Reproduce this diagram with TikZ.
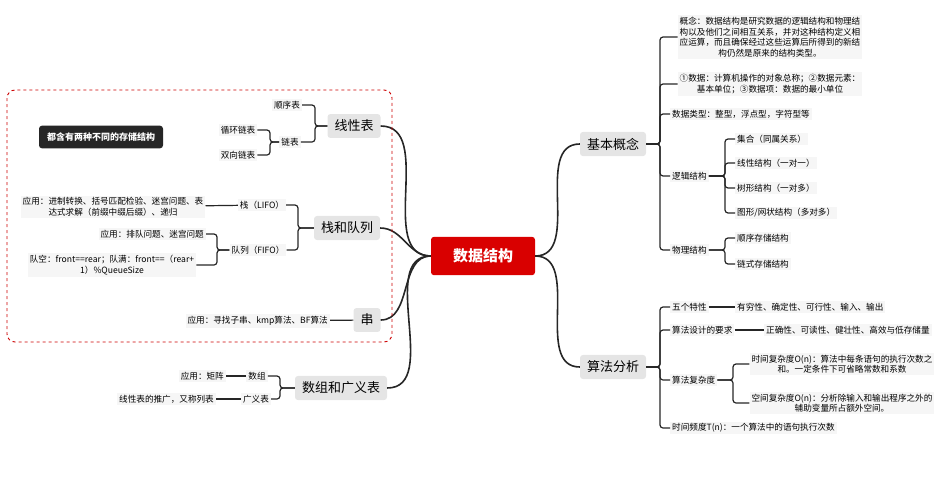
\documentclass[tikz,border=0pt]{standalone}
\usepackage{fontspec}
\setmainfont{Noto Sans CJK SC}
\usetikzlibrary{positioning}

\tikzset{
  leaf/.style={fill=gray!7, inner sep=2pt, font=\fontsize{8.6}{10.5}\selectfont, align=center},
  topic/.style={fill=gray!20, rounded corners=3pt, inner xsep=7pt, inner ysep=6pt, font=\fontsize{13}{15}\selectfont},
  root/.style={fill=red!85!black, rounded corners=3pt, inner xsep=22pt, inner ysep=12pt, text=white, font=\fontsize{15}{17}\selectfont\bfseries},
  branch/.style={line width=1.6pt, black!85},
  brk/.style={line width=1.2pt, black!85, rounded corners=3pt},
}

\begin{document}
\begin{tikzpicture}[x=1pt, y=-1pt]
    \useasboundingbox (0,0) rectangle (949,496);

    % Root and topics
    \node[root]  (ds)    at (483,256) {数据结构};
    \node[topic] (basic) at (613,144) {基本概念};
    \node[topic] (algo)  at (613,367) {算法分析};
    \node[topic] (lin)   at (354,126) {线性表};
    \node[topic] (stq)   at (347,228) {栈和队列};
    \node[topic] (str)   at (367,320) {串};
    \node[topic] (arr)   at (341,388) {数组和广义表};

    \draw[branch] (ds.east) to[out=0, in=180] (basic.west);
    \draw[branch] (ds.east) to[out=0, in=180] (algo.west);
    \draw[branch] (ds.west) to[out=180, in=0] (lin.east);
    \draw[branch] (ds.west) to[out=180, in=0] (stq.east);
    \draw[branch] (ds.west) to[out=180, in=0] (str.east);
    \draw[branch] (ds.west) to[out=180, in=0] (arr.east);

    % Basic concepts
    \node[leaf] (cpt)  at (770,37) {概念：数据结构是研究数据的逻辑结构和物理结\\构以及他们之间相互关系，并对这种结构定义相\\应运算，而且确保经过这些运算后所得到的新结\\构仍然是原来的结构类型。};
    \node[leaf] (elem) at (770,84) {①数据：计算机操作的对象总称；②数据元素：\\基本单位；③数据项：数据的最小单位};
    \node[leaf, anchor=west] (type)  at (670,114) {数据类型：整型，浮点型，字符型等};
    \node[leaf, anchor=west] (logic) at (670,176) {逻辑结构};
    \node[leaf, anchor=west] (phys)  at (670,250) {物理结构};
    \foreach \c in {cpt, elem, type, logic, phys}
        \draw[brk] (basic.east) -- (660,144) |- (\c.west);

    \node[leaf, anchor=west] (set)   at (735,139) {集合（同属关系）};
    \node[leaf, anchor=west] (lrel)  at (735,163) {线性结构（一对一）};
    \node[leaf, anchor=west] (tree)  at (735,188) {树形结构（一对多）};
    \node[leaf, anchor=west] (graph) at (735,213) {图形/网状结构（多对多）};
    \foreach \c in {set, lrel, tree, graph}
        \draw[brk] (logic.east) -- (725,176) |- (\c.west);

    \node[leaf, anchor=west] (seqs) at (735,238) {顺序存储结构};
    \node[leaf, anchor=west] (lnks) at (735,264) {链式存储结构};
    \foreach \c in {seqs, lnks}
        \draw[brk] (phys.east) -- (725,250) |- (\c.west);

    % Algorithm analysis
    \node[leaf, anchor=west] (five) at (670,307) {五个特性};
    \node[leaf, anchor=west] (req)  at (670,330) {算法设计的要求};
    \node[leaf, anchor=west] (cplx) at (670,380) {算法复杂度};
    \node[leaf, anchor=west] (freq) at (670,428) {时间频度T(n)：一个算法中的语句执行次数};
    \foreach \c in {five, req, cplx, freq}
        \draw[brk] (algo.east) -- (660,367) |- (\c.west);

    \node[leaf, anchor=west] (fivev) at (735,307) {有穷性、确定性、可行性、输入、输出};
    \node[leaf, anchor=west] (reqv)  at (764,330) {正确性、可读性、健壮性、高效与低存储量};
    \draw[brk] (five) -- (fivev);
    \draw[brk] (req) -- (reqv);

    \node[leaf] (tcx) at (842,364) {时间复杂度O(n)：算法中每条语句的执行次数之\\和。一定条件下可省略常数和系数};
    \node[leaf] (scx) at (842,403) {空间复杂度O(n)：分析除输入和输出程序之外的\\辅助变量所占额外空间。};
    \foreach \c in {tcx, scx}
        \draw[brk] (cplx.east) -- (733,380) |- (\c.west);

    % Linear list
    \node[leaf] (seql) at (287,105) {顺序表};
    \node[leaf] (lnkl) at (290,142) {链表};
    \foreach \c in {seql, lnkl}
        \draw[brk] (lin.west) -- (315,126) |- (\c.east);
    \node[leaf] (cyc) at (238,130) {循环链表};
    \node[leaf] (dbl) at (238,155) {双向链表};
    \foreach \c in {cyc, dbl}
        \draw[brk] (lnkl.west) -- (270,142) |- (\c.east);

    % Stack and queue
    \node[leaf] (stk) at (262,205) {栈（LIFO）};
    \node[leaf] (que) at (258,250) {队列（FIFO）};
    \foreach \c in {stk, que}
        \draw[brk] (stq.west) -- (298,228) |- (\c.east);
    \node[leaf] (stku) at (113,207) {应用：进制转换、括号匹配检验、迷宫问题、表\\达式求解（前缀中缀后缀）、递归};
    \draw[brk] (stk) -- (stku);
    \node[leaf, anchor=east] (queu) at (206,234) {应用：排队问题、迷宫问题};
    \node[leaf] (quec) at (112,265) {队空：front==rear；队满：front==（rear+\\1）\%QueueSize};
    \foreach \c in {queu, quec}
        \draw[brk] (que.west) -- (217,250) |- (\c.east);

    % String
    \node[leaf, anchor=east] (stru) at (330,321) {应用：寻找子串、kmp算法、BF算法};
    \draw[brk] (str) -- (stru);

    % Arrays
    \node[leaf] (ary) at (257,376) {数组};
    \node[leaf] (gls) at (256,399) {广义表};
    \foreach \c in {ary, gls}
        \draw[brk] (arr.west) -- (280,388) |- (\c.east);
    \node[leaf, anchor=east] (aryu) at (226,376) {应用：矩阵};
    \node[leaf, anchor=east] (glsu) at (216,399) {线性表的推广，又称列表};
    \draw[brk] (ary) -- (aryu);
    \draw[brk] (gls) -- (glsu);

    % Summary frame
    \draw[red!80!black, dashed, rounded corners=8pt, line width=0.9pt] (7,90) rectangle (392,342);
    \node[fill=black!85, text=white, rounded corners=3pt, inner xsep=8pt, inner ysep=7pt,
          font=\fontsize{9}{11}\selectfont\bfseries] (note) at (101,137) {都含有两种不同的存储结构};

\end{tikzpicture}
\end{document}
